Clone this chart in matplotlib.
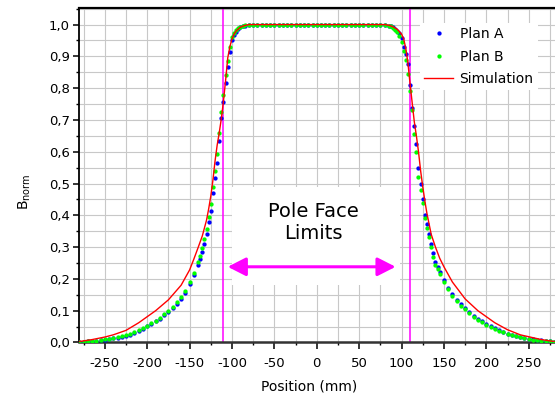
import numpy as np
import matplotlib
matplotlib.use("Agg")
import matplotlib.pyplot as plt
from matplotlib.patches import Rectangle
from matplotlib.ticker import MultipleLocator, FuncFormatter

# measured positions (mm): tails every 5 mm, fringe regions every 2.5 mm
pos_left_tail = np.arange(-280, -144, 5)
pos_left_edge = np.arange(-140, -84, 2.5)
pos_top = np.arange(-80, 81, 5)
pos_right_edge = np.arange(85, 143, 2.5)
pos_right_tail = np.arange(145, 281, 5)
pos = np.concatenate([pos_left_tail, pos_left_edge, pos_top, pos_right_edge, pos_right_tail])

plan_a = [
    # left tail -280 .. -145
    0.002, 0.003, 0.004, 0.005, 0.006, 0.007, 0.009, 0.011, 0.013, 0.015,
    0.018, 0.021, 0.025, 0.030, 0.036, 0.043, 0.051, 0.058, 0.066, 0.075,
    0.085, 0.096, 0.108, 0.122, 0.138, 0.156, 0.185, 0.213,
    # left edge -140 .. -85
    0.245, 0.263, 0.284, 0.310, 0.342, 0.378, 0.415, 0.470, 0.518, 0.565,
    0.635, 0.705, 0.755, 0.815, 0.865, 0.915, 0.952, 0.966, 0.978, 0.986,
    0.991, 0.995, 0.997,
    # top -80 .. 80
    0.998, 0.998, 0.998, 0.998, 0.998, 0.998, 0.998, 0.998, 0.998, 0.998,
    0.998, 0.998, 0.998, 0.999, 0.999, 0.999, 0.999, 0.999, 0.999, 0.999,
    0.998, 0.998, 0.998, 0.998, 0.998, 0.998, 0.998, 0.998, 0.998, 0.998,
    0.998, 0.998, 0.998,
    # right edge 85 .. 142.5
    0.997, 0.995, 0.992, 0.987, 0.980, 0.972, 0.958, 0.930, 0.906, 0.875,
    0.810, 0.738, 0.680, 0.625, 0.550, 0.500, 0.450, 0.400, 0.372, 0.340,
    0.310, 0.280, 0.254, 0.238,
    # right tail 145 .. 280
    0.222, 0.197, 0.172, 0.152, 0.135, 0.120, 0.107, 0.095, 0.084, 0.074,
    0.066, 0.058, 0.051, 0.044, 0.038, 0.033, 0.028, 0.024, 0.020, 0.017,
    0.014, 0.012, 0.010, 0.008, 0.007, 0.005, 0.004, 0.003,
]

plan_b = [
    # left tail -280 .. -145
    0.002, 0.003, 0.004, 0.005, 0.006, 0.008, 0.010, 0.012, 0.014, 0.016,
    0.019, 0.023, 0.027, 0.032, 0.038, 0.045, 0.053, 0.061, 0.069, 0.078,
    0.088, 0.100, 0.112, 0.127, 0.143, 0.162, 0.190, 0.220,
    # left edge -140 .. -85
    0.252, 0.272, 0.296, 0.324, 0.358, 0.395, 0.435, 0.490, 0.540, 0.592,
    0.660, 0.725, 0.778, 0.840, 0.885, 0.930, 0.960, 0.972, 0.982, 0.989,
    0.993, 0.996, 0.998,
    # top -80 .. 80
    0.999, 0.999, 0.999, 0.999, 0.999, 0.999, 0.999, 0.999, 0.999, 0.999,
    0.999, 0.999, 1.000, 1.000, 1.000, 1.000, 1.000, 1.000, 1.000, 0.999,
    0.999, 0.999, 0.999, 0.999, 0.999, 0.999, 0.999, 0.999, 0.999, 0.999,
    0.999, 0.999, 0.999,
    # right edge 85 .. 142.5
    0.997, 0.994, 0.990, 0.984, 0.975, 0.965, 0.945, 0.918, 0.887, 0.845,
    0.790, 0.730, 0.655, 0.600, 0.520, 0.478, 0.440, 0.390, 0.360, 0.332,
    0.300, 0.270, 0.245, 0.232,
    # right tail 145 .. 280
    0.215, 0.190, 0.167, 0.147, 0.131, 0.116, 0.104, 0.092, 0.081, 0.072,
    0.064, 0.056, 0.049, 0.042, 0.037, 0.032, 0.027, 0.023, 0.019, 0.016,
    0.013, 0.011, 0.009, 0.008, 0.006, 0.005, 0.004, 0.003,
]

sim_pos = [
    -280, -275, -265, -250, -240, -225, -210, -200, -190, -175,
    -160, -150, -145, -140, -135, -130, -127.5, -125, -122.5, -120,
    -117.5, -115, -112.5, -110, -107.5, -105, -102.5, -100, -97.5, -95,
    -90, -85, -80, -60, 0, 60, 80, 85, 90, 95,
    100, 102.5, 105, 107.5, 110, 112.5, 115, 117.5, 120, 122.5,
    125, 127.5, 130, 135, 140, 145, 150, 160, 175, 190,
    200, 210, 225, 240, 250, 265, 275, 280,
]
sim_val = [
    0.003, 0.005, 0.009, 0.017, 0.024, 0.038, 0.062, 0.081, 0.100, 0.134,
    0.180, 0.228, 0.262, 0.298, 0.335, 0.385, 0.420, 0.460, 0.510, 0.570,
    0.620, 0.660, 0.705, 0.760, 0.825, 0.895, 0.930, 0.955, 0.970, 0.980,
    0.992, 0.997, 1.000, 1.000, 1.000, 1.000, 1.000, 0.998, 0.993, 0.985,
    0.970, 0.955, 0.925, 0.880, 0.815, 0.755, 0.695, 0.650, 0.600, 0.540,
    0.490, 0.445, 0.405, 0.340, 0.300, 0.265, 0.238, 0.190, 0.137, 0.100,
    0.081, 0.062, 0.040, 0.024, 0.018, 0.009, 0.005, 0.003,
]

pole_limits = [-110, 110]


def comma(v, _):
    return f"{v:.1f}".replace(".", ",")


def main():
    plt.rcParams["font.family"] = ["DejaVu Sans"]
    plt.rcParams["axes.unicode_minus"] = False

    fig = plt.figure(figsize=(5.55, 4.01), dpi=100)
    ax = fig.add_axes([0.143, 0.146, 0.857, 0.834])

    ax.plot(pos, plan_a, "o", color="#0000ff", markersize=3.1, markeredgewidth=0,
            label="Plan A", zorder=3)
    ax.plot(pos, plan_b, "o", color="#00ff00", markersize=3.1, markeredgewidth=0,
            label="Plan B", zorder=3.1)
    ax.plot(sim_pos, sim_val, "-", color="#ff0000", lw=1.0, label="Simulation", zorder=4)

    for p in pole_limits:
        ax.axvline(p, color="#ff00ff", lw=1.1, zorder=2.5)

    # white box behind the annotation
    ax.add_patch(Rectangle((-100, 0.18), 198, 0.31, facecolor="white",
                           edgecolor="none", zorder=2))
    ax.text(-4, 0.377, "Pole Face\nLimits", ha="center", va="center",
            fontsize=14, zorder=5, linespacing=1.25)
    ax.annotate("", xy=(-105, 0.238), xytext=(93, 0.238),
                arrowprops=dict(arrowstyle="<|-|>,head_length=0.55,head_width=0.28",
                                color="#ff00ff", lw=2.2, mutation_scale=20,
                                shrinkA=0, shrinkB=0),
                zorder=5)

    ax.set_xlim(-280, 281)
    ax.set_ylim(0, 1.052)
    ax.xaxis.set_major_locator(MultipleLocator(50))
    ax.xaxis.set_minor_locator(MultipleLocator(25))
    ax.yaxis.set_major_locator(MultipleLocator(0.1))
    ax.yaxis.set_minor_locator(MultipleLocator(0.05))
    ax.yaxis.set_major_formatter(FuncFormatter(comma))
    ax.set_xticks([-250, -200, -150, -100, -50, 0, 50, 100, 150, 200, 250])

    ax.grid(which="both", color="#c8c8c8", lw=0.8)
    ax.tick_params(which="major", direction="out", length=4, width=1.1,
                   labelsize=9.5, pad=3)
    ax.tick_params(which="minor", direction="out", length=2.2, width=1.0)
    ax.tick_params(axis="x", which="major", length=5, pad=5.5)

    ax.spines["right"].set_visible(False)
    ax.spines["left"].set_linewidth(1.3)
    ax.spines["top"].set_linewidth(1.6)
    ax.spines["bottom"].set_linewidth(1.8)
    ax.spines["bottom"].set_color("#333333")

    ax.set_xlabel("Position (mm)", fontsize=10)
    ax.set_ylabel(r"B$_{\mathrm{norm}}$", fontsize=10)
    ax.xaxis.set_label_coords(0.483, -0.112)
    ax.yaxis.set_label_coords(-0.098, 0.45)

    leg = ax.legend(loc="upper left", bbox_to_anchor=(0.716, 0.955), fontsize=10,
                    numpoints=1, markerscale=1.0, handlelength=2.1,
                    handletextpad=0.45, labelspacing=0.6, borderpad=0.3,
                    borderaxespad=0, fancybox=False, framealpha=1)
    leg.get_frame().set_edgecolor("none")
    leg.set_zorder(6)

    fig.savefig("out.png", dpi=100)


if __name__ == "__main__":
    main()
